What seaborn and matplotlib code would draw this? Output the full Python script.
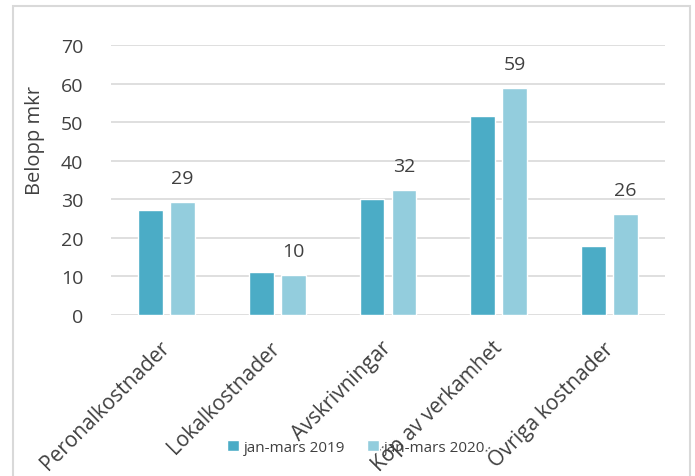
import pandas as pd
import matplotlib.pyplot as plt
import seaborn as sns
from matplotlib.patches import Rectangle

categories = ['Peronalkostnader', 'Lokalkostnader', 'Avskrivningar', 'Köp av verkamhet', 'Övriga kostnader']
series = ['jan-mars 2019', 'jan-mars 2020']
values_2019 = [27.1, 11.1, 30.0, 51.5, 17.9]
values_2020 = [29.2, 10.4, 32.4, 58.8, 26.1]
labels_2020 = ['29', '10', '32', '59', '26']

df = pd.DataFrame({
    'kategori': categories * 2,
    'period': [series[0]] * 5 + [series[1]] * 5,
    'belopp': values_2019 + values_2020,
})

sns.set_style('white')
plt.rcParams['font.family'] = ['Open Sans', 'DejaVu Sans']
txt = '#404040'

fig = plt.figure(figsize=(6.95, 4.77), dpi=100)
ax = fig.add_axes([111 / 695, 1 - 316 / 477, 554 / 695, 270 / 477])

sns.barplot(data=df, x='kategori', y='belopp', hue='period',
            palette=['#4bacc6', '#93cddd'], width=0.577, gap=0.22,
            saturation=1, ax=ax, zorder=3)

ax.set_ylim(0, 70)
ax.set_xlim(-0.5, 4.5)
ax.set_yticks(range(0, 71, 10))
ax.grid(axis='y', color='#d9d9d9', linewidth=1.2, zorder=0)
sns.despine(ax=ax, left=True, top=True, right=True, bottom=True)
ax.tick_params(axis='y', labelsize=14, labelcolor=txt, length=0, pad=20)
ax.tick_params(axis='x', labelsize=15, labelcolor=txt, length=0, pad=21)
for lab in ax.get_xticklabels():
    lab.set_rotation(45)
    lab.set_ha('right')
    lab.set_va('center')
    lab.set_rotation_mode('anchor')

ax.set_xlabel('')
ax.set_ylabel('Belopp mkr', fontsize=14.5, color=txt)
ax.yaxis.set_label_coords(-0.119, 0.65)

ax.bar_label(ax.containers[1], labels=labels_2020, padding=11,
             fontsize=14, color=txt)

sns.move_legend(ax, loc='center', bbox_to_anchor=(0.512, 0.06),
                bbox_transform=fig.transFigure, ncol=2, frameon=False,
                title=None, fontsize=11, handlelength=0.8, handleheight=0.8,
                handletextpad=0.3, columnspacing=1.4)
for t in ax.get_legend().get_texts():
    t.set_color(txt)

fig.patches.append(Rectangle((13 / 695, -0.05), 677 / 695, 1.05 - 7 / 477,
                             transform=fig.transFigure, fill=False,
                             edgecolor='#d9d9d9', linewidth=1.5))

fig.savefig('out.png', dpi=100)
